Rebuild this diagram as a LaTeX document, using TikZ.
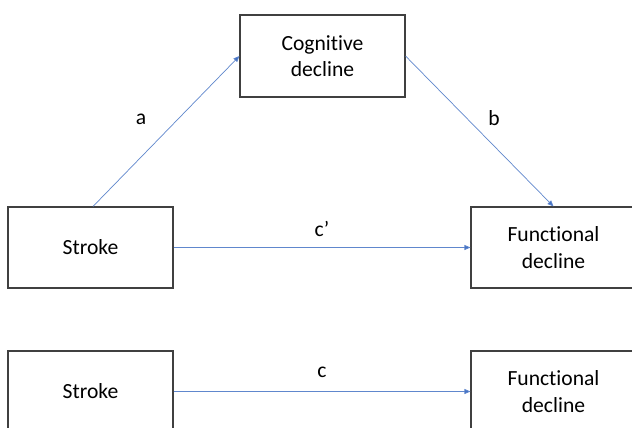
\documentclass[tikz,border=0pt]{standalone}
\usepackage{fontspec}
\setmainfont{Carlito}[Ligatures=NoCommon]
\usetikzlibrary{arrows.meta}
\definecolor{boxline}{HTML}{404040}
\definecolor{arrblue}{HTML}{4472C4}
\begin{document}
\begin{tikzpicture}[x=1pt,y=-1pt,
  box/.style={draw=boxline,line width=1.1pt,minimum width=165pt,minimum height=81pt,
    inner sep=0pt,align=center,font=\fontsize{21.6}{26.5}\selectfont,fill=white},
  conn/.style={draw=arrblue!85,line width=0.7pt,-{Triangle[length=6pt,width=5pt,fill=arrblue]}},
  lbl/.style={font=\fontsize{21.6}{26}\selectfont,inner sep=0pt}]
\useasboundingbox[fill=white] (0,0) rectangle (632,428);
\node[box,minimum height=82pt] (cog) at (322.5,56) {Cognitive\\decline};
\node[box] (s1) at (90.5,247.5) {Stroke};
\node[box] (f1) at (553.5,247.5) {Functional\\decline};
\node[box] (s2) at (90.5,391.5) {Stroke};
\node[box] (f2) at (553.5,391.5) {Functional\\decline};
\draw[conn] ([xshift=2.5pt]s1.north) -- (cog.west);
\draw[conn] (cog.east) -- (f1.north);
\draw[conn] (s1.east) -- (f1.west);
\draw[conn] (s2.east) -- (f2.west);
\node[lbl] (la) at (141,119) {a};
\node[lbl] (lb) at (494,118) {b};
\node[lbl] (lc1) at (322,229) {c’};
\node[lbl] (lc) at (322,372) {c};
\end{tikzpicture}
\end{document}
